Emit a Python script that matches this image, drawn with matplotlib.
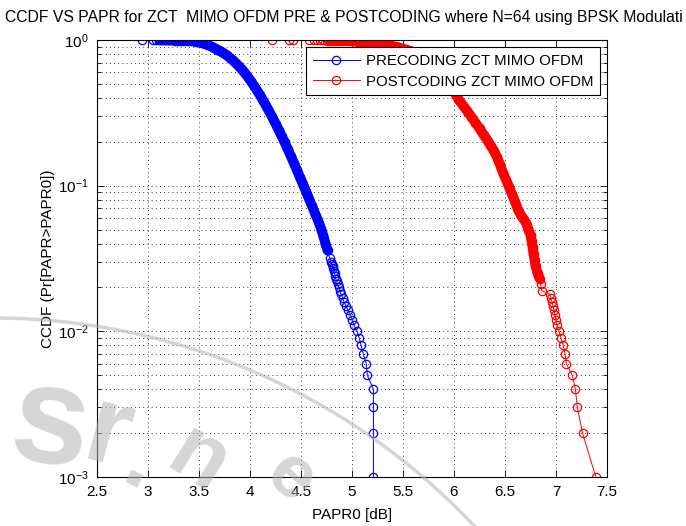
import matplotlib
matplotlib.use("Agg")
import numpy as np
import matplotlib.pyplot as plt
from matplotlib.patches import Arc

plt.rcParams['font.family'] = ['Liberation Sans', 'DejaVu Sans']
plt.rcParams['mathtext.fontset'] = 'custom'
plt.rcParams['mathtext.rm'] = 'Liberation Sans'
plt.rcParams['mathtext.it'] = 'Liberation Sans:italic'

# values
pre_papr = [2.94, 3.05, 3.08, 3.11, 3.14, 3.17, 3.20, 3.23, 3.26, 3.29,
            3.32, 3.35, 3.38, 3.41, 3.44, 3.47, 3.50, 3.53, 3.56, 3.59,
            3.62, 3.65, 3.68, 3.71, 3.74, 3.77, 3.80, 3.83, 3.86, 3.89,
            3.92, 3.95, 3.98, 4.01, 4.04, 4.07, 4.10, 4.13, 4.16, 4.19,
            4.22, 4.25, 4.28, 4.31, 4.34, 4.37, 4.40, 4.43, 4.46, 4.49,
            4.52, 4.55, 4.58, 4.61, 4.64, 4.67, 4.70, 4.72, 4.74, 4.76,
            4.78, 4.79, 4.80, 4.81, 4.815, 4.82, 4.83, 4.835, 4.84, 4.85,
            4.86, 4.87, 4.88, 4.89, 4.91, 4.92, 4.94, 4.96, 4.98, 5.00,
            5.02, 5.05, 5.07, 5.09, 5.11, 5.14, 5.15, 5.21, 5.21, 5.21, 5.21]
pre_ccdf = [1.000, 0.999, 0.998, 0.997, 0.996, 0.995, 0.994, 0.993, 0.992, 0.991,
            0.990, 0.989, 0.987, 0.984, 0.980, 0.975, 0.966, 0.955, 0.940, 0.922,
            0.903, 0.882, 0.860, 0.838, 0.815, 0.788, 0.758, 0.727, 0.694, 0.662,
            0.628, 0.592, 0.556, 0.520, 0.484, 0.450, 0.416, 0.383, 0.352, 0.322,
            0.294, 0.267, 0.242, 0.219, 0.198, 0.178, 0.160, 0.143, 0.128, 0.114,
            0.102, 0.091, 0.081, 0.072, 0.064, 0.057, 0.050, 0.045, 0.040, 0.036,
            0.032, 0.030, 0.029, 0.028, 0.027, 0.026, 0.025, 0.024, 0.023, 0.022,
            0.021, 0.020, 0.019, 0.018, 0.017, 0.016, 0.015, 0.014, 0.013, 0.012,
            0.011, 0.010, 0.009, 0.008, 0.007, 0.006, 0.005, 0.004, 0.003, 0.002, 0.001]

post_papr = [4.22, 4.38, 4.42, 4.58, 4.63, 4.66, 4.69, 4.72, 4.75, 4.78,
             4.81, 4.84, 4.87, 4.90, 4.94, 4.98, 5.02, 5.06, 5.10, 5.14,
             5.18, 5.22, 5.26, 5.30, 5.34, 5.38, 5.42, 5.46, 5.50, 5.54,
             5.58, 5.62, 5.66, 5.70, 5.74, 5.78, 5.82, 5.86, 5.90, 5.94,
             5.97, 6.01, 6.05, 6.09, 6.13, 6.17, 6.21, 6.25, 6.29, 6.33,
             6.36, 6.39, 6.42, 6.45, 6.48, 6.51, 6.54, 6.57, 6.60, 6.63,
             6.66, 6.69, 6.71, 6.73, 6.75, 6.76, 6.77, 6.78, 6.79, 6.80,
             6.82, 6.84, 6.85, 6.86, 6.94, 6.95, 6.96, 6.97, 6.98, 6.99,
             7.00, 7.01, 7.03, 7.05, 7.07, 7.09, 7.10, 7.16, 7.19, 7.21, 7.26, 7.39]
post_ccdf = [1.000, 0.999, 0.998, 0.997, 0.996, 0.995, 0.994, 0.993, 0.992, 0.991,
             0.990, 0.989, 0.988, 0.986, 0.984, 0.982, 0.979, 0.976, 0.972, 0.967,
             0.962, 0.955, 0.947, 0.937, 0.926, 0.914, 0.902, 0.888, 0.872, 0.855,
             0.836, 0.815, 0.792, 0.766, 0.738, 0.706, 0.670, 0.630, 0.585, 0.535,
             0.490, 0.430, 0.385, 0.355, 0.325, 0.297, 0.271, 0.247, 0.224, 0.203,
             0.188, 0.174, 0.158, 0.140, 0.123, 0.110, 0.098, 0.087, 0.077, 0.068,
             0.062, 0.058, 0.055, 0.050, 0.046, 0.042, 0.038, 0.034, 0.031, 0.028,
             0.025, 0.023, 0.021, 0.019, 0.018, 0.017, 0.016, 0.015, 0.014, 0.013,
             0.012, 0.011, 0.010, 0.009, 0.008, 0.007, 0.006, 0.005, 0.004, 0.003, 0.002, 0.001]

x_ticks = [2.5, 3, 3.5, 4, 4.5, 5, 5.5, 6, 6.5, 7, 7.5]
x_tick_labels = ['2.5', '3', '3.5', '4', '4.5', '5', '5.5', '6', '6.5', '7', '7.5']
y_ticks = [1e-3, 1e-2, 1e-1, 1e0]
y_tick_labels = ['$10^{-3}$', '$10^{-2}$', '$10^{-1}$', '$10^{0}$']

fig = plt.figure(figsize=(6.86, 5.26), dpi=100)
ax = fig.add_axes([97 / 686, 1 - 477 / 526, 510 / 686, 437 / 526])
ax.set_xlim(2.5, 7.5)
ax.set_ylim(1e-3, 1)
ax.set_yscale('log')


def ccdf_curve(x, y, col, name, band):
    ax.plot(x, y, '-o', color=col, lw=0.7, ms=6, mew=0.9, mfc='none', label=name)
    # in the source ~1000 circles pile up into a solid band over this range
    x, y = np.asarray(x), np.asarray(y)
    m = (y <= band[1]) & (y >= band[0])
    ax.plot(x[m], y[m], '-', color=col, lw=7.2,
            solid_capstyle='round', solid_joinstyle='round')


ccdf_curve(pre_papr, pre_ccdf, 'b', 'PRECODING ZCT MIMO OFDM', (0.036, 0.997))
ccdf_curve(post_papr, post_ccdf, 'r', 'POSTCODING ZCT MIMO OFDM', (0.023, 0.991))

ax.set_xticks(x_ticks)
ax.set_xticklabels(x_tick_labels)
ax.set_yticks(y_ticks)
ax.set_yticklabels(y_tick_labels)

ax.grid(True, which='major', axis='x', color='k', ls=(0, (1, 4)), lw=0.6)
ax.grid(True, which='both', axis='y', color='k', ls=(0, (1, 4)), lw=0.6)
ax.tick_params(which='both', direction='in', top=True, right=True, labelsize=11)
ax.tick_params(which='major', length=5, width=0.6, pad=6)
ax.tick_params(which='minor', length=3, width=0.6)
for s in ax.spines.values():
    s.set_linewidth(0.8)

# the title is wider than the window in the source, only this much shows
fig.text(5 / 686, 1 - 22 / 526,
         'CCDF VS PAPR for ZCT  MIMO OFDM PRE & POSTCODING where N=64 using BPSK Modulati',
         fontsize=11.3, ha='left', va='baseline')
ax.set_xlabel('PAPR0 [dB]', fontsize=11, labelpad=6)
ax.set_ylabel('CCDF (Pr[PAPR>PAPR0])', fontsize=11, labelpad=2)

leg = ax.legend(loc='upper right', bbox_to_anchor=(1, 1), borderaxespad=0.47,
                fontsize=10.8, fancybox=False, edgecolor='k', framealpha=1,
                handlelength=3.1, handletextpad=0.4, borderpad=0.45,
                labelspacing=0.45)
leg.get_frame().set_linewidth(0.8)
leg.set_zorder(5)

# faint watermark of the source page
wm = '#b4b4b4'
fig.add_artist(Arc((-7 / 686, -453 / 526), 2 * 661 / 686, 2 * 661 / 526,
                   theta1=40, theta2=95, transform=fig.transFigure,
                   color=wm, lw=2.5, alpha=0.55))
for ch, px, py, rot, fs in [('s', 50, 428, -8, 100), ('r', 108, 436, -15, 80),
                            ('.', 140, 466, -25, 66), ('n', 198, 462, -32, 64),
                            ('e', 290, 478, -42, 54)]:
    fig.text(px / 686, 1 - py / 526, ch, fontsize=fs, rotation=rot, color=wm,
             alpha=0.55, ha='center', va='center', fontweight='bold')

fig.savefig('out.png', dpi=100)
